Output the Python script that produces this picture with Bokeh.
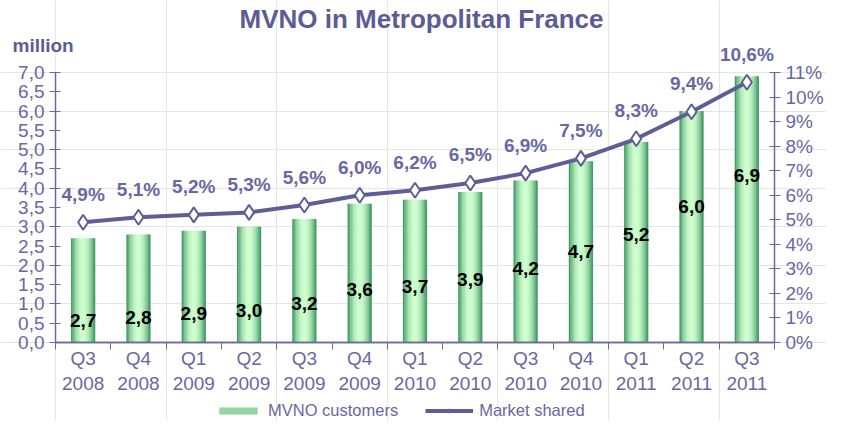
import numpy as np
from bokeh.plotting import figure
from bokeh.models import (Range1d, LinearAxis, FixedTicker, Label, Legend, LegendItem)
from bokeh.core.properties import value
from bokeh.embed import file_html
from bokeh.resources import INLINE

# ---- data ----
quarters = ["Q3", "Q4", "Q1", "Q2", "Q3", "Q4", "Q1", "Q2", "Q3", "Q4", "Q1", "Q2", "Q3"]
years = ["2008", "2008", "2009", "2009", "2009", "2009", "2010", "2010", "2010", "2010", "2011", "2011", "2011"]
customers = [2.7, 2.8, 2.9, 3.0, 3.2, 3.6, 3.7, 3.9, 4.2, 4.7, 5.2, 6.0, 6.9]
market_share = [4.9, 5.1, 5.2, 5.3, 5.6, 6.0, 6.2, 6.5, 6.9, 7.5, 8.3, 9.4, 10.6]
left_ticks = [0.0, 0.5, 1.0, 1.5, 2.0, 2.5, 3.0, 3.5, 4.0, 4.5, 5.0, 5.5, 6.0, 6.5, 7.0]
right_ticks = [0, 1, 2, 3, 4, 5, 6, 7, 8, 9, 10, 11]

FONT = "Liberation Sans"
AX = "#6a6aa0"
LINE = "#5e5e96"
TXT = "#6868a2"
TITLE = "#5c5c94"

# ---- layout (pixels) ----
W_PX, H_PX = 826, 420
n = len(customers)
left_px, right_px = 55, 774          # y-axes positions
top_px, bottom_px = 72, 342          # y=7.0 and y=0 positions
cat_px = (right_px - left_px) / n
ly_px = (bottom_px - top_px) / left_ticks[-1]
ry_px = (bottom_px - top_px) / right_ticks[-1]

def dx(px):
    return (px - left_px) / cat_px

def dy(py):
    return (bottom_px - py) / ly_px

xc = np.arange(n) + 0.5

p = figure(width=W_PX, height=H_PX, output_backend="svg", toolbar_location=None,
           x_axis_location=None, y_axis_location=None,
           x_range=Range1d(dx(0), dx(W_PX)), y_range=Range1d(dy(H_PX), dy(0)),
           min_border=0, min_border_left=0, min_border_right=0, min_border_top=0, min_border_bottom=0)
p.outline_line_color = None
p.title.visible = False
p.extra_y_ranges = {"pct": Range1d(-(H_PX - bottom_px) / ry_px, bottom_px / ry_px)}

# axes drawn at fixed data positions
la = LinearAxis(fixed_location=0, bounds=(0, left_ticks[-1]),
                ticker=FixedTicker(ticks=left_ticks, minor_ticks=[]),
                major_label_overrides={t: ("%.1f" % t).replace(".", ",") for t in left_ticks})
ra = LinearAxis(fixed_location=n, y_range_name="pct", bounds=(0, right_ticks[-1]),
                ticker=FixedTicker(ticks=right_ticks, minor_ticks=[]),
                major_label_overrides={t: "%d%%" % t for t in right_ticks})
# bottom: one axis for boundary ticks, one for category labels
bt = LinearAxis(fixed_location=0, bounds=(0, n),
                ticker=FixedTicker(ticks=list(range(n + 1)), minor_ticks=[]),
                major_label_text_alpha=0, major_label_text_font_size="1px")
bl = LinearAxis(fixed_location=0, bounds=(0, n),
                ticker=FixedTicker(ticks=list(xc), minor_ticks=[]),
                major_label_overrides={float(x): q + "\n" + y for x, q, y in zip(xc, quarters, years)})
for ax in (la, ra, bt, bl):
    ax.axis_line_color = AX
    ax.axis_line_width = 1.5
    ax.major_tick_line_color = AX
    ax.minor_tick_line_color = None
    ax.major_label_text_color = TXT
    ax.major_label_text_font = FONT
    ax.minor_tick_in = 0
    ax.minor_tick_out = 0
for ax in (la, ra, bl):
    ax.major_label_text_font_size = "19px"
for ax in (la, ra):
    ax.major_tick_in = 5
    ax.major_tick_out = 6
la.major_label_standoff = 5
ra.major_label_standoff = 5
bt.major_tick_in = 0
bt.major_tick_out = 7
bl.major_tick_line_color = None
bl.major_tick_in = 0
bl.major_tick_out = 0
bl.major_label_standoff = 5
p.add_layout(la, "left")
p.add_layout(ra, "right")
p.add_layout(bt, "below")
p.add_layout(bl, "below")

# gradient bars built from thin strips
bw = 0.43
N = 18
dark = np.array([46, 139, 87])
light = np.array([206, 255, 206])
bar_renderers = []
for k in range(N):
    t = (k + 0.5) / N
    f = np.sin(np.pi * t) ** 0.8
    c = dark + (light - dark) * f
    col = "#%02x%02x%02x" % tuple(int(v) for v in c)
    off = -bw / 2 + (k + 0.5) * bw / N
    r = p.vbar(x=xc + off, top=customers, width=bw / N * 1.35, fill_color=col, line_color=None)
    bar_renderers.append(r)

# bar value labels
p.text(x=xc, y=0.9 * np.array(customers) - 1.87, text=[("%.1f" % v).replace(".", ",") for v in customers],
       text_align="center", text_baseline="middle", text_font=value(FONT),
       text_font_size="19px", text_font_style="bold", text_color="black")

# market share line
lr = p.line(x=xc, y=market_share, y_range_name="pct", line_color=LINE, line_width=4)
sr = p.scatter(x=xc, y=market_share, y_range_name="pct", marker="diamond", size=15,
               fill_color="white", line_color=LINE, line_width=2)
p.text(x=xc, y=market_share, y_range_name="pct",
       text=[("%.1f%%" % v).replace(".", ",") for v in market_share],
       y_offset=-28, text_align="center", text_baseline="middle", text_font=value(FONT),
       text_font_size="19px", text_font_style="bold", text_color=TXT)

# title and unit label
p.add_layout(Label(x=dx(421), y=dy(18), text="MVNO in Metropolitan France", text_align="center",
                   text_baseline="middle", text_font=FONT, text_font_size="26px",
                   text_font_style="bold", text_color=TITLE))
p.add_layout(Label(x=dx(12), y=dy(45), text="million", text_align="left",
                   text_baseline="middle", text_font=FONT, text_font_size="19px",
                   text_font_style="bold", text_color=TITLE))

legend = Legend(items=[LegendItem(label="MVNO customers", renderers=[bar_renderers[3]]),
                       LegendItem(label="Market shared", renderers=[lr, sr])],
                location=(214, 0), orientation="horizontal", glyph_width=48, glyph_height=9,
                label_height=18, label_standoff=6, spacing=27, padding=1, margin=0,
                label_text_font=FONT, label_text_font_size="16.5px", label_text_color=TXT,
                label_text_baseline="middle",
                background_fill_alpha=0, border_line_color=None)
p.add_layout(legend, "center")

open("out.html", "w").write(file_html(p, INLINE))
